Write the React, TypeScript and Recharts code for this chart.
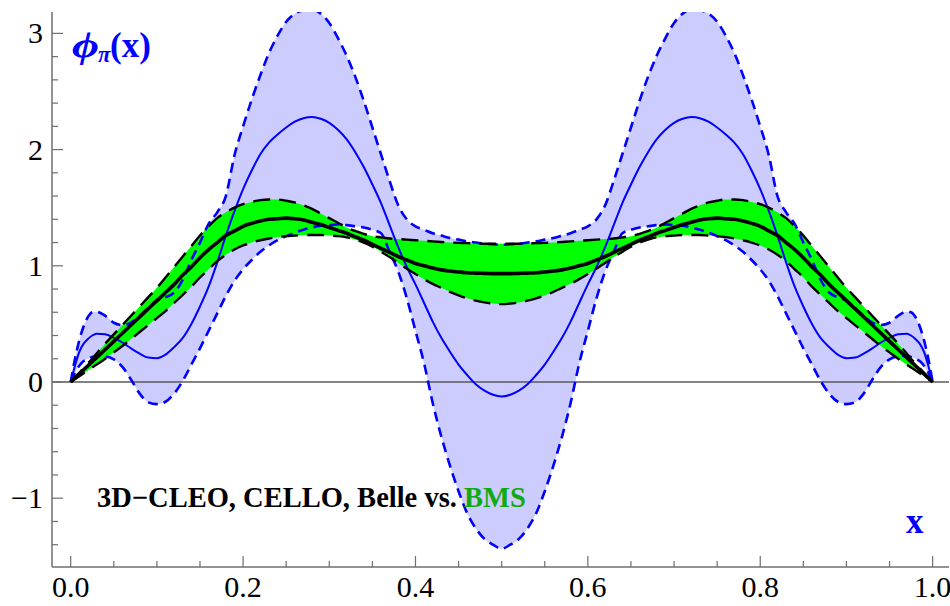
import React from 'react';
import { ComposedChart, Area, Line, XAxis, YAxis, ReferenceLine } from 'recharts';

// x grid (momentum fraction)
const xs = [
  0, 0.005, 0.01, 0.015, 0.02, 0.025, 0.03, 0.04, 0.05, 0.06, 0.07, 0.08, 0.09, 0.1,
  0.11, 0.12, 0.13, 0.14, 0.15, 0.16, 0.17, 0.18, 0.19, 0.2, 0.21, 0.22, 0.23, 0.24,
  0.25, 0.26, 0.27, 0.28, 0.29, 0.3, 0.31, 0.32, 0.33, 0.34, 0.35, 0.36, 0.37, 0.38,
  0.39, 0.4, 0.41, 0.42, 0.43, 0.44, 0.45, 0.46, 0.47, 0.48, 0.49, 0.5,
  0.51, 0.52, 0.53, 0.54, 0.55, 0.56, 0.57, 0.58, 0.59, 0.6, 0.61, 0.62, 0.63, 0.64,
  0.65, 0.66, 0.67, 0.68, 0.69, 0.7, 0.71, 0.72, 0.73, 0.74, 0.75, 0.76, 0.77, 0.78,
  0.79, 0.8, 0.81, 0.82, 0.83, 0.84, 0.85, 0.86, 0.87, 0.88, 0.89, 0.9, 0.91, 0.92,
  0.93, 0.94, 0.95, 0.96, 0.97, 0.975, 0.98, 0.985, 0.99, 0.995, 1,
];

// data-fit band (blue), upper / lower envelope and central curve
const blueUpper = [
  0, 0.2, 0.36, 0.48, 0.56, 0.6, 0.605, 0.57, 0.51, 0.49, 0.51, 0.57, 0.64, 0.7,
  0.73, 0.77, 0.88, 1.05, 1.2, 1.36, 1.46, 1.6, 1.95, 2.2, 2.43, 2.64, 2.83, 2.98,
  3.1, 3.17, 3.2, 3.21, 3.17, 3.09, 2.96, 2.81, 2.63, 2.42, 2.19, 1.96, 1.73, 1.52,
  1.4, 1.34, 1.31, 1.28, 1.26, 1.24, 1.225, 1.21, 1.2, 1.19, 1.185, 1.18,
  1.185, 1.19, 1.2, 1.21, 1.225, 1.24, 1.26, 1.28, 1.31, 1.34, 1.4, 1.52, 1.73, 1.96,
  2.19, 2.42, 2.63, 2.81, 2.96, 3.09, 3.17, 3.21, 3.2, 3.17, 3.1, 2.98, 2.83, 2.64,
  2.43, 2.2, 1.95, 1.6, 1.46, 1.36, 1.2, 1.05, 0.88, 0.77, 0.73, 0.7, 0.64, 0.57,
  0.51, 0.49, 0.51, 0.57, 0.605, 0.6, 0.56, 0.48, 0.36, 0.2, 0,
];
const blueLower = [
  0, 0.08, 0.14, 0.18, 0.2, 0.215, 0.225, 0.22, 0.195, 0.13, 0.02, -0.1, -0.175, -0.19,
  -0.17, -0.1, 0.01, 0.15, 0.29, 0.44, 0.59, 0.74, 0.87, 0.97, 1.05, 1.12, 1.175, 1.22,
  1.255, 1.285, 1.31, 1.33, 1.345, 1.35, 1.355, 1.35, 1.34, 1.33, 1.31, 1.28, 1.12, 0.95,
  0.72, 0.44, 0.16, -0.18, -0.47, -0.72, -0.94, -1.13, -1.26, -1.35, -1.4, -1.435,
  -1.4, -1.35, -1.26, -1.13, -0.94, -0.72, -0.47, -0.18, 0.16, 0.44, 0.72, 0.95, 1.12, 1.28,
  1.31, 1.33, 1.34, 1.35, 1.355, 1.35, 1.345, 1.33, 1.31, 1.285, 1.255, 1.22, 1.175, 1.12,
  1.05, 0.97, 0.87, 0.74, 0.59, 0.44, 0.29, 0.15, 0.01, -0.1, -0.17, -0.19, -0.175, -0.1,
  0.02, 0.13, 0.195, 0.22, 0.225, 0.215, 0.2, 0.18, 0.14, 0.08, 0,
];
const blueMid = [
  0, 0.14, 0.26, 0.33, 0.37, 0.4, 0.415, 0.41, 0.38, 0.34, 0.29, 0.245, 0.21, 0.205,
  0.235, 0.3, 0.38, 0.5, 0.65, 0.82, 1.03, 1.26, 1.47, 1.66, 1.82, 1.96, 2.06, 2.13,
  2.19, 2.24, 2.27, 2.28, 2.265, 2.23, 2.17, 2.09, 1.98, 1.85, 1.7, 1.54, 1.35, 1.16,
  0.99, 0.84, 0.68, 0.52, 0.38, 0.26, 0.15, 0.06, -0.02, -0.075, -0.11, -0.125,
  -0.11, -0.075, -0.02, 0.06, 0.15, 0.26, 0.38, 0.52, 0.68, 0.84, 0.99, 1.16, 1.35, 1.54,
  1.7, 1.85, 1.98, 2.09, 2.17, 2.23, 2.265, 2.28, 2.27, 2.24, 2.19, 2.13, 2.06, 1.96,
  1.82, 1.66, 1.47, 1.26, 1.03, 0.82, 0.65, 0.5, 0.38, 0.3, 0.235, 0.205, 0.21, 0.245,
  0.29, 0.34, 0.38, 0.41, 0.415, 0.4, 0.37, 0.33, 0.26, 0.14, 0,
];

// BMS band (green), upper / lower bound and central curve
const bmsUpper = [
  0, 0.04, 0.08, 0.12, 0.16, 0.2, 0.245, 0.33, 0.41, 0.49, 0.57, 0.65, 0.73, 0.81,
  0.9, 0.99, 1.08, 1.17, 1.26, 1.34, 1.41, 1.46, 1.5, 1.53, 1.55, 1.565, 1.57, 1.57,
  1.56, 1.545, 1.52, 1.49, 1.45, 1.41, 1.37, 1.33, 1.3, 1.275, 1.255, 1.245, 1.235, 1.23,
  1.225, 1.22, 1.215, 1.21, 1.205, 1.2, 1.197, 1.195, 1.192, 1.19, 1.19, 1.19,
  1.19, 1.19, 1.192, 1.195, 1.197, 1.2, 1.205, 1.21, 1.215, 1.22, 1.225, 1.23, 1.235, 1.245,
  1.255, 1.275, 1.3, 1.33, 1.37, 1.41, 1.45, 1.49, 1.52, 1.545, 1.56, 1.57, 1.57, 1.565,
  1.55, 1.53, 1.5, 1.46, 1.41, 1.34, 1.26, 1.17, 1.08, 0.99, 0.9, 0.81, 0.73, 0.65,
  0.57, 0.49, 0.41, 0.33, 0.245, 0.2, 0.16, 0.12, 0.08, 0.04, 0,
];
const bmsLower = [
  0, 0.025, 0.05, 0.075, 0.1, 0.125, 0.15, 0.2, 0.255, 0.31, 0.37, 0.43, 0.49, 0.55,
  0.61, 0.68, 0.75, 0.82, 0.9, 0.97, 1.04, 1.095, 1.14, 1.175, 1.2, 1.22, 1.235, 1.247,
  1.255, 1.26, 1.265, 1.265, 1.265, 1.26, 1.255, 1.245, 1.225, 1.2, 1.165, 1.12, 1.075, 1.025,
  0.975, 0.93, 0.885, 0.845, 0.81, 0.775, 0.745, 0.72, 0.7, 0.685, 0.675, 0.67,
  0.675, 0.685, 0.7, 0.72, 0.745, 0.775, 0.81, 0.845, 0.885, 0.93, 0.975, 1.025, 1.075, 1.12,
  1.165, 1.2, 1.225, 1.245, 1.255, 1.26, 1.265, 1.265, 1.265, 1.26, 1.255, 1.247, 1.235, 1.22,
  1.2, 1.175, 1.14, 1.095, 1.04, 0.97, 0.9, 0.82, 0.75, 0.68, 0.61, 0.55, 0.49, 0.43,
  0.37, 0.31, 0.255, 0.2, 0.15, 0.125, 0.1, 0.075, 0.05, 0.025, 0,
];
const bmsMid = [
  0, 0.035, 0.07, 0.105, 0.14, 0.175, 0.21, 0.28, 0.35, 0.42, 0.49, 0.56, 0.63, 0.7,
  0.77, 0.84, 0.92, 0.99, 1.07, 1.14, 1.2, 1.26, 1.3, 1.34, 1.365, 1.385, 1.4, 1.405,
  1.41, 1.405, 1.395, 1.375, 1.355, 1.33, 1.305, 1.28, 1.25, 1.22, 1.185, 1.15, 1.115, 1.08,
  1.05, 1.02, 1.0, 0.98, 0.965, 0.955, 0.947, 0.94, 0.937, 0.935, 0.933, 0.933,
  0.933, 0.935, 0.937, 0.94, 0.947, 0.955, 0.965, 0.98, 1.0, 1.02, 1.05, 1.08, 1.115, 1.15,
  1.185, 1.22, 1.25, 1.28, 1.305, 1.33, 1.355, 1.375, 1.395, 1.405, 1.41, 1.405, 1.4, 1.385,
  1.365, 1.34, 1.3, 1.26, 1.2, 1.14, 1.07, 0.99, 0.92, 0.84, 0.77, 0.7, 0.63, 0.56,
  0.49, 0.42, 0.35, 0.28, 0.21, 0.175, 0.14, 0.105, 0.07, 0.035, 0,
];

// ticks (major every 0.2 on x, every 1 on y)
const xTicks = [
  0, 0.05, 0.1, 0.15, 0.2, 0.25, 0.3, 0.35, 0.4, 0.45, 0.5,
  0.55, 0.6, 0.65, 0.7, 0.75, 0.8, 0.85, 0.9, 0.95, 1,
];
const yTicks = [
  -1.4, -1.2, -1, -0.8, -0.6, -0.4, -0.2, 0, 0.2, 0.4, 0.6, 0.8, 1, 1.2, 1.4,
  1.6, 1.8, 2, 2.2, 2.4, 2.6, 2.8, 3,
];

const rows = xs.map((x, i) => ({
  x,
  blueBand: [blueLower[i], blueUpper[i]],
  bu: blueUpper[i],
  bl: blueLower[i],
  bm: blueMid[i],
  greenBand: [bmsLower[i], bmsUpper[i]],
  ku: bmsUpper[i],
  kl: bmsLower[i],
  km: bmsMid[i],
}));

const GRAY = '#6f6f6f';
const SERIF = '"Liberation Serif", "Times New Roman", serif';
const BLUE = '#0000ff';

const isMajor = (v: number, step: number) => Math.abs(v / step - Math.round(v / step)) < 1e-6;

const BottomTick = (p: any) => {
  const v = p.payload.value;
  const major = isMajor(v, 0.2);
  return (
    <g>
      <line x1={p.x} x2={p.x} y1={p.y} y2={p.y - (major ? 11 : 6)} stroke={GRAY} strokeWidth={1.2} />
      {major && (
        <text x={p.x} y={p.y + 30} textAnchor="middle" fontFamily={SERIF} fontSize={30} fill="#000">
          {v.toFixed(1)}
        </text>
      )}
    </g>
  );
};

const TopTick = (p: any) => {
  const major = isMajor(p.payload.value, 0.2);
  return <line x1={p.x} x2={p.x} y1={p.y} y2={p.y + (major ? 11 : 6)} stroke={GRAY} strokeWidth={1.2} />;
};

const LeftTick = (p: any) => {
  const v = p.payload.value;
  const major = isMajor(v, 1);
  return (
    <g>
      <line x1={p.x} x2={p.x + (major ? 11 : 6)} y1={p.y} y2={p.y} stroke={GRAY} strokeWidth={1.2} />
      {major && (
        <text x={p.x - 9} y={p.y + 10} textAnchor="end" fontFamily={SERIF} fontSize={30} fill="#000">
          {v < 0 ? '\u2212' + Math.abs(v) : String(v)}
        </text>
      )}
    </g>
  );
};

const RightTick = (p: any) => {
  const major = isMajor(p.payload.value, 1);
  return <line x1={p.x} x2={p.x - (major ? 11 : 6)} y1={p.y} y2={p.y} stroke={GRAY} strokeWidth={1.2} />;
};

const xDomain = [-0.0217, 1.019];
const yDomain = [-1.592, 3.184];
const frame = { stroke: GRAY, strokeWidth: 1.5 };

export default function App() {
  return (
    <div style={{ position: 'absolute', left: 0, top: 0, width: 950, height: 606, background: '#fff' }}>
      <ComposedChart width={950} height={606} data={rows} margin={{ top: 12, right: 1, bottom: 0, left: 0 }}>
        <XAxis xAxisId="b" dataKey="x" type="number" domain={xDomain} allowDataOverflow ticks={xTicks}
          interval={0} height={39} tickLine={false} tickSize={0} tickMargin={0} axisLine={frame}
          tick={(p: any) => <BottomTick {...p} />} />
        <XAxis xAxisId="t" orientation="top" dataKey="x" type="number" domain={xDomain} allowDataOverflow
          ticks={xTicks} interval={0} height={0} tickLine={false} tickSize={0} tickMargin={0} axisLine={frame}
          tick={(p: any) => <TopTick {...p} />} />
        <YAxis yAxisId="l" type="number" domain={yDomain} allowDataOverflow ticks={yTicks} interval={0}
          width={52} tickLine={false} tickSize={0} tickMargin={0} axisLine={frame}
          tick={(p: any) => <LeftTick {...p} />} />
        <YAxis yAxisId="r" orientation="right" type="number" domain={yDomain} allowDataOverflow ticks={yTicks}
          interval={0} width={0} tickLine={false} tickSize={0} tickMargin={0} axisLine={frame}
          tick={(p: any) => <RightTick {...p} />} />

        <Area xAxisId="b" yAxisId="l" type="monotone" dataKey="blueBand" stroke="none" fill="#ccccff"
          fillOpacity={1} isAnimationActive={false} dot={false} activeDot={false} />
        <Area xAxisId="b" yAxisId="l" type="monotone" dataKey="greenBand" stroke="none" fill="#00ff00"
          fillOpacity={1} isAnimationActive={false} dot={false} activeDot={false} />
        <ReferenceLine xAxisId="b" yAxisId="l" y={0} stroke="#5a5a5a" strokeWidth={1.3} />

        <Line xAxisId="b" yAxisId="l" type="monotone" dataKey="bu" stroke={BLUE} strokeWidth={2.6}
          strokeDasharray="10 6" dot={false} activeDot={false} isAnimationActive={false} />
        <Line xAxisId="b" yAxisId="l" type="monotone" dataKey="bl" stroke={BLUE} strokeWidth={2.6}
          strokeDasharray="10 6" dot={false} activeDot={false} isAnimationActive={false} />
        <Line xAxisId="b" yAxisId="l" type="monotone" dataKey="bm" stroke={BLUE} strokeWidth={2}
          dot={false} activeDot={false} isAnimationActive={false} />
        <Line xAxisId="b" yAxisId="l" type="monotone" dataKey="ku" stroke="#000" strokeWidth={2.4}
          strokeDasharray="17 9" dot={false} activeDot={false} isAnimationActive={false} />
        <Line xAxisId="b" yAxisId="l" type="monotone" dataKey="kl" stroke="#000" strokeWidth={2.4}
          strokeDasharray="17 9" dot={false} activeDot={false} isAnimationActive={false} />
        <Line xAxisId="b" yAxisId="l" type="monotone" dataKey="km" stroke="#000" strokeWidth={3.6}
          dot={false} activeDot={false} isAnimationActive={false} />
      </ComposedChart>

      <svg width={950} height={606} style={{ position: 'absolute', left: 0, top: 0, pointerEvents: 'none' }}>
        <text y={57} fontFamily={SERIF} fontWeight="bold" fill={BLUE}>
          <tspan x={72} fontSize={36} fontStyle="italic" textLength={27} lengthAdjust="spacingAndGlyphs">ϕ</tspan>
          <tspan x={98} dy={5} fontSize={23} fontStyle="italic">π</tspan>
          <tspan x={110} dy={-5} fontSize={35}>(x)</tspan>
        </text>
        <text x={906} y={533} fontFamily={SERIF} fontWeight="bold" fontSize={35} fill={BLUE}>x</text>
        <text x={97} y={507} fontFamily={SERIF} fontWeight="bold" fontSize={28.5} fill="#000">
          3D−CLEO, CELLO, Belle vs. <tspan fill="#11aa11">BMS</tspan>
        </text>
      </svg>
    </div>
  );
}
